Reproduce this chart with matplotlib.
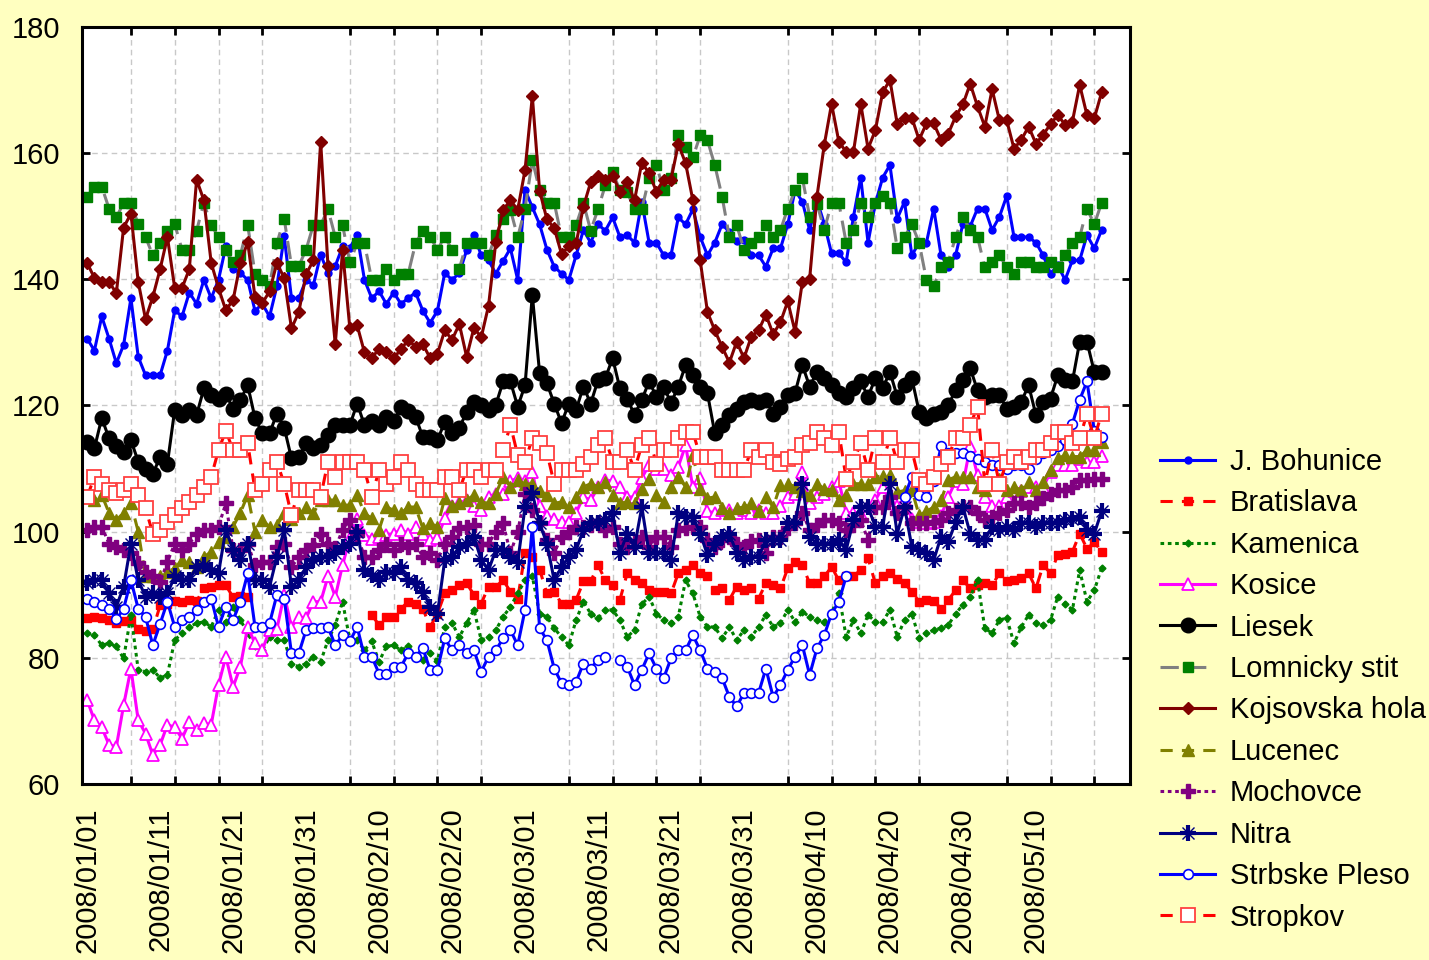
import numpy as np
import pandas as pd
import matplotlib
matplotlib.use('Agg')
import matplotlib.pyplot as plt

nan = np.nan

# daily values, 2008/01/01 .. 2008/05/19
start_date = '2008-01-01'

j_bohunice = [130.6, 128.7, 134.1, 130.6, 126.7, 129.6, 137.0, 127.7, 124.8, 124.8,
              124.8, 128.7, 135.1, 134.1, 137.9, 136.1, 139.9, 137.0, 139.9, 145.2,
              141.7, 141.0, 139.9, 135.0, 136.1, 134.1, 138.9, 146.8, 137.0, 137.0,
              139.9, 139.1, 143.9, 141.0, 142.1, 145.2, 145.0, 147.0, 139.9, 137.0,
              138.1, 136.1, 137.9, 136.1, 137.0, 137.9, 135.0, 133.1, 135.0, 141.0,
              139.9, 141.0, 144.6, 147.0, 143.8, 143.0, 140.9, 142.9, 144.9, 139.9,
              154.2, 151.4, 148.7, 144.7, 142.0, 140.9, 139.9, 143.8, 147.8, 145.8,
              148.7, 147.7, 149.8, 146.7, 147.0, 145.8, 152.3, 145.8, 145.8, 143.8,
              143.8, 149.8, 148.7, 151.1, 146.7, 143.8, 145.8, 148.7, 147.5, 146.0,
              146.2, 143.8, 143.8, 142.0, 144.9, 144.9, 148.7, 154.1, 152.3, 147.8,
              152.5, 148.8, 144.1, 144.1, 142.7, 149.9, 156.1, 145.8, 152.0, 156.1,
              158.1, 149.6, 152.3, 143.8, 145.8, 145.8, 151.2, 143.8, 142.0, 143.8,
              148.8, 148.4, 151.2, 151.2, 147.8, 149.9, 153.2, 146.7, 146.7, 146.7,
              145.8, 143.8, 140.9, 142.2, 139.9, 143.0, 143.0, 147.0, 144.9, 147.8]

bratislava = [86.3, 86.5, 86.3, 86.0, 85.5, 85.8, 86.0, 84.5, 84.2, 84.5,
              88.3, 88.6, 89.0, 88.8, 89.2, 89.0, 91.0, 91.3, 91.5, 91.5,
              89.6, 89.8, 89.6, nan, nan, nan, nan, nan, nan, nan,
              nan, nan, nan, nan, nan, nan, nan, nan, nan, 86.8,
              85.2, 86.5, 86.5, 87.8, 88.9, 88.5, 87.8, 84.9, 87.0, 90.2,
              90.7, 91.5, 91.8, 90.0, 88.6, 91.3, 91.3, 92.3, 90.5, 89.4,
              96.6, 96.0, 94.0, 90.2, 90.5, 88.6, 88.6, 89.2, 92.1, 92.1,
              94.7, 92.3, 91.5, 89.2, 93.4, 92.3, 91.8, 90.7, 90.5, 90.5,
              90.2, 93.4, 93.9, 94.7, 93.4, 92.9, 90.7, 91.0, 89.2, 91.3,
              90.7, 91.0, 89.4, 91.8, 91.5, 91.0, 94.2, 95.2, 94.7, 91.8,
              91.8, 92.9, 94.4, 92.3, 92.9, 93.0, 93.9, 95.8, 91.8, 92.9,
              93.4, 92.5, 91.8, 90.5, 88.9, 89.2, 89.0, 87.8, 89.2, 90.7,
              92.3, 91.0, 91.5, 91.8, 91.5, 93.4, 92.1, 92.3, 92.6, 93.4,
              91.0, 94.7, 93.4, 96.3, 96.5, 96.8, 99.7, 97.3, 98.4, 96.8]

kamenica = [83.9, 83.6, 82.0, 82.3, 81.8, 79.9, 86.8, 78.1, 77.8, 78.1,
            76.8, 77.3, 82.8, 83.9, 84.9, 85.5, 85.7, 84.9, 87.6, 85.7,
            88.1, 86.0, 83.9, 81.8, 81.2, 83.3, 82.8, 82.8, 79.1, 78.6,
            79.1, 80.2, 79.4, 82.8, 85.2, 88.9, 82.8, 82.8, 81.2, 82.6,
            79.4, 81.8, 82.0, 81.2, 81.8, 80.2, 79.7, 80.7, 79.5, 84.9,
            85.5, 83.3, 85.5, 87.6, 82.8, 83.3, 84.4, 86.5, 88.1, 90.2,
            92.3, 92.9, 87.0, 86.5, 84.7, 83.3, 82.0, 86.0, 88.9, 87.0,
            86.3, 87.6, 87.6, 86.0, 83.3, 84.4, 88.5, 89.7, 87.0, 86.0,
            85.5, 86.5, 92.3, 90.2, 86.5, 84.9, 84.9, 83.1, 84.9, 82.8,
            84.4, 83.3, 84.9, 86.8, 84.9, 85.5, 87.6, 85.7, 87.3, 86.5,
            86.0, 85.7, 87.0, 90.2, 83.3, 86.0, 83.9, 86.8, 85.7, 85.7,
            87.6, 83.3, 86.0, 87.0, 83.1, 83.9, 84.4, 84.7, 85.2, 87.0,
            88.4, 89.7, 92.3, 84.7, 83.9, 86.0, 86.3, 82.3, 84.9, 86.8,
            85.5, 85.2, 86.0, 89.7, 88.6, 87.6, 93.9, 88.9, 90.7, 94.2]

kosice = [73.3, 70.1, 69.0, 66.2, 65.9, 72.5, 78.3, 70.1, 68.0, 64.6,
          66.2, 69.4, 69.0, 67.2, 69.8, 68.5, 69.6, 69.4, 75.7, 80.2,
          75.4, 78.6, 84.9, 82.3, 81.2, 84.4, 84.6, 90.0, 84.9, 86.5,
          86.3, 88.9, 88.9, 92.9, 89.7, 94.7, 99.0, 102.0, 99.5, 98.9,
          99.2, 99.5, 99.7, 100.3, 99.7, 100.8, 99.7, 98.7, 99.0, 102.1,
          104.0, 104.5, 105.0, 104.0, 103.5, 105.5, 106.0, 106.0, 108.0, 108.5,
          108.0, 109.5, 104.0, 102.5, 102.0, 101.5, 101.5, 103.0, 105.5, 105.0,
          107.0, 108.2, 108.0, 107.0, 105.5, 105.5, 108.5, 110.6, 110.0, 110.0,
          109.0, 110.3, 113.7, 107.0, 108.5, 103.2, 103.0, 103.5, 103.5, 103.0,
          103.5, 103.0, 103.5, 103.0, 103.0, 104.0, 105.5, 106.0, 109.5, 104.5,
          105.5, 106.0, 107.0, 108.0, 103.0, 103.0, 102.8, 104.0, 105.0, 107.0,
          105.0, 104.0, 105.0, 102.0, 101.5, 101.3, 101.5, 102.5, 105.5, 108.0,
          107.5, 113.5, 109.0, 105.5, 104.0, 104.0, 105.5, 106.5, 106.5, 107.0,
          107.0, 107.0, 109.5, 110.5, 110.5, 110.5, 111.5, 111.0, 111.0, 112.0]

liesek = [114.2, 113.2, 118.0, 114.8, 113.5, 112.7, 114.5, 111.1, 109.9, 109.1,
          111.9, 110.8, 119.3, 118.5, 119.3, 118.5, 122.7, 121.6, 121.1, 121.8,
          119.5, 120.9, 123.2, 118.0, 115.6, 115.6, 118.7, 116.5, 111.6, 111.9,
          114.0, 113.3, 113.7, 115.3, 116.9, 116.9, 116.9, 120.3, 116.9, 117.5,
          116.9, 118.2, 117.5, 119.8, 119.2, 118.2, 115.0, 115.0, 114.5, 117.4,
          115.6, 116.4, 119.0, 120.6, 120.1, 119.3, 120.1, 123.8, 123.8, 119.8,
          123.2, 137.5, 125.1, 123.5, 120.3, 117.2, 120.3, 119.3, 123.0, 120.3,
          124.0, 124.3, 127.5, 122.7, 121.1, 118.5, 120.9, 123.8, 121.4, 123.0,
          120.4, 123.0, 126.4, 124.8, 123.0, 121.9, 115.6, 116.9, 118.5, 119.5,
          120.6, 120.9, 120.6, 120.9, 118.7, 119.8, 121.6, 122.0, 126.4, 123.0,
          125.3, 124.3, 123.2, 121.9, 121.4, 122.7, 123.8, 121.4, 124.3, 122.7,
          125.3, 121.4, 123.2, 124.3, 119.0, 118.0, 118.7, 119.0, 120.1, 122.4,
          124.0, 125.9, 122.4, 121.4, 121.6, 121.6, 119.5, 119.8, 120.6, 123.2,
          118.5, 120.6, 121.1, 124.8, 124.0, 123.8, 130.1, 130.1, 125.3, 125.3]

lomnicky_stit = [153.1, 154.7, 154.7, 151.2, 149.8, 152.1, 152.1, 148.7, 146.7, 143.8,
                 145.7, 147.7, 148.7, 144.7, 144.7, 147.7, 152.1, 148.6, 146.7, 144.7,
                 142.7, 143.8, 148.6, 140.9, 139.9, 139.0, 145.7, 149.6, 142.1, 142.1,
                 144.7, 148.6, 148.6, 151.1, 146.7, 148.6, 142.7, 145.7, 145.7, 139.9,
                 139.9, 141.7, 139.9, 140.9, 140.9, 145.7, 147.7, 146.7, 144.7, 146.7,
                 144.7, 141.7, 145.7, 145.7, 145.7, 143.8, 147.0, 149.6, 151.0, 146.7,
                 151.2, 158.9, 154.1, 152.1, 152.1, 146.7, 146.7, 148.6, 152.1, 147.7,
                 151.1, 154.9, 157.0, 154.1, 153.8, 151.1, 151.1, 156.0, 158.1, 154.1,
                 156.0, 162.8, 160.9, 159.3, 162.8, 162.0, 158.1, 153.1, 146.7, 148.6,
                 144.7, 145.7, 146.7, 148.6, 146.7, 147.8, 151.2, 154.1, 156.1, 149.9,
                 152.0, 147.8, 152.1, 152.1, 145.8, 147.8, 152.1, 149.9, 152.1, 153.2,
                 152.1, 144.9, 146.7, 148.7, 145.8, 139.9, 138.9, 141.9, 142.8, 146.7,
                 149.9, 147.8, 146.7, 141.9, 142.8, 143.8, 141.9, 140.9, 142.8, 142.8,
                 141.9, 141.9, 142.8, 141.9, 143.8, 145.8, 146.7, 151.2, 148.7, 152.1]

kojsovska_hola = [142.6, 140.2, 139.6, 139.6, 137.8, 148.2, 150.4, 139.6, 133.7, 137.2,
                  141.6, 146.7, 138.6, 138.6, 141.6, 155.8, 152.5, 142.6, 138.6, 135.1,
                  136.7, 142.6, 145.9, 137.2, 136.2, 138.1, 142.6, 140.2, 132.2, 134.8,
                  140.8, 143.0, 161.8, 142.1, 129.7, 144.6, 132.2, 132.7, 128.4, 127.5,
                  129.0, 128.4, 127.5, 128.9, 130.4, 129.3, 129.7, 127.5, 128.2, 131.9,
                  130.4, 132.9, 127.7, 132.3, 130.8, 135.8, 145.9, 151.0, 152.5, 151.0,
                  157.3, 169.0, 154.0, 149.5, 148.1, 144.0, 145.2, 145.7, 151.5, 155.4,
                  156.4, 155.8, 156.4, 153.9, 155.4, 152.5, 158.5, 156.8, 153.9, 155.8,
                  155.8, 161.4, 158.4, 152.5, 143.0, 134.8, 131.9, 129.3, 126.8, 130.1,
                  127.5, 130.9, 131.9, 134.4, 131.3, 133.2, 136.5, 131.7, 139.6, 140.1,
                  153.1, 161.3, 167.8, 161.8, 160.2, 160.2, 167.8, 160.7, 163.6, 169.6,
                  171.6, 164.6, 165.6, 165.6, 162.1, 164.7, 164.7, 162.1, 163.1, 165.8,
                  167.7, 171.0, 167.4, 164.2, 170.1, 165.2, 165.2, 160.7, 162.1, 164.2,
                  161.5, 162.9, 164.6, 166.0, 164.5, 165.0, 170.8, 166.0, 165.5, 169.6]

lucenec = [105.8, 105.0, 105.8, 103.0, 101.8, 103.0, 104.5, 100.0, 92.9, 92.9,
           93.0, 93.6, 94.2, 95.5, 95.2, 94.4, 96.0, 96.8, 98.4, 99.2,
           100.8, 103.0, 105.8, 100.0, 101.8, 100.8, 101.0, 102.9, 102.0, 103.0,
           103.9, 102.9, 105.0, 105.0, 105.0, 104.2, 104.2, 105.8, 102.9, 102.1,
           100.3, 103.9, 103.4, 102.9, 103.9, 103.9, 100.5, 101.3, 100.8, 105.3,
           104.0, 104.5, 105.0, 105.8, 104.7, 104.5, 106.0, 108.7, 107.1, 108.2,
           107.5, 107.6, 106.5, 105.8, 104.5, 104.7, 103.9, 105.5, 107.1, 107.6,
           107.1, 107.9, 105.8, 104.5, 104.7, 104.5, 106.8, 108.4, 105.8, 104.7,
           107.1, 108.7, 107.1, 112.1, 106.8, 105.3, 105.5, 103.7, 102.9, 103.7,
           103.9, 104.5, 103.2, 105.5, 103.9, 107.4, 107.6, 107.1, 106.5, 105.8,
           107.6, 106.8, 106.6, 105.0, 105.8, 107.6, 107.6, 107.6, 108.7, 108.8,
           109.0, 106.3, 106.5, 106.6, 102.6, 103.2, 103.9, 105.0, 108.2, 108.7,
           108.7, 108.7, 107.1, 106.6, 107.5, 108.4, 106.6, 107.1, 106.6, 107.9,
           106.6, 107.9, 109.8, 111.6, 112.1, 111.9, 111.9, 112.9, 112.9, 114.2]

mochovce = [100.3, 100.8, 100.8, 98.1, 97.6, 97.1, 96.6, 95.0, 93.6, 92.9,
            92.0, 95.2, 98.1, 97.1, 98.1, 99.7, 100.3, 100.3, 100.8, 104.5,
            97.1, 97.1, 98.1, 94.7, 95.2, 95.2, 97.6, 98.1, 94.4, 96.0,
            97.1, 97.9, 99.7, 98.1, 97.4, 100.3, 101.8, 99.5, 96.0, 96.0,
            97.1, 98.1, 97.1, 98.1, 97.6, 98.1, 96.0, 96.6, 95.5, 98.0,
            99.2, 100.5, 100.8, 101.0, 98.1, 98.1, 100.0, 101.3, 96.6, 100.0,
            106.0, 103.4, 101.3, 98.7, 96.6, 99.2, 100.0, 100.8, 100.8, 101.0,
            101.3, 100.3, 100.8, 98.1, 97.6, 98.5, 99.2, 97.6, 99.2, 99.2,
            97.6, 100.3, 100.5, 100.8, 100.8, 98.7, 97.6, 98.7, 99.2, 98.1,
            97.6, 98.5, 98.7, 96.6, 99.2, 99.2, 100.5, 101.3, 102.9, 100.3,
            101.0, 101.8, 101.8, 101.3, 100.3, 101.0, 101.8, 98.7, 103.9, 103.9,
            105.5, 102.9, 103.9, 101.3, 101.3, 101.3, 101.5, 101.8, 102.9, 103.4,
            103.9, 103.9, 102.9, 101.8, 102.3, 102.9, 103.5, 104.5, 104.5, 103.9,
            104.5, 105.3, 106.0, 106.6, 106.6, 107.1, 108.2, 108.2, 108.4, 108.4]

nitra = [91.8, 92.3, 92.3, 90.2, 88.1, 91.3, 98.1, 92.3, 89.7, 90.2,
         89.7, 90.2, 92.9, 92.3, 92.3, 94.4, 94.7, 93.9, 93.4, 100.3,
         97.1, 95.5, 98.1, 92.3, 92.3, 91.3, 96.0, 100.3, 91.3, 92.3,
         94.4, 95.5, 96.0, 96.0, 96.6, 97.6, 98.1, 100.0, 93.9, 93.1,
         92.3, 93.6, 93.4, 94.4, 92.3, 91.8, 90.5, 88.1, 87.0, 95.5,
         96.0, 97.6, 98.0, 99.2, 95.5, 93.9, 97.1, 97.1, 96.0, 95.2,
         103.9, 106.1, 101.3, 98.1, 92.3, 94.4, 96.0, 97.1, 100.3, 101.3,
         101.3, 101.8, 102.9, 96.6, 99.7, 97.6, 103.9, 96.6, 96.6, 96.6,
         95.5, 102.9, 102.4, 102.4, 99.7, 96.3, 98.1, 99.2, 99.7, 96.6,
         95.5, 96.0, 96.0, 98.7, 98.7, 98.7, 101.3, 101.3, 107.6, 99.2,
         98.1, 98.1, 98.1, 98.7, 97.1, 101.8, 103.9, 103.9, 100.8, 100.8,
         107.6, 99.7, 103.9, 97.6, 97.1, 96.6, 95.5, 99.2, 98.4, 101.5,
         103.9, 99.7, 98.7, 98.7, 100.8, 100.3, 100.8, 100.3, 101.3, 101.3,
         100.8, 101.3, 101.3, 101.3, 101.8, 102.0, 102.4, 100.3, 99.7, 103.2]

strbske_pleso = [89.4, 88.9, 88.4, 87.8, 86.1, 87.8, 92.3, 87.8, 86.5, 82.0,
                 85.4, 88.9, 84.9, 86.0, 86.5, 87.6, 88.9, 89.4, 84.9, 88.1,
                 86.0, 88.9, 93.4, 84.9, 84.9, 85.5, 90.0, 89.4, 80.7, 80.7,
                 84.4, 84.7, 84.7, 84.9, 82.0, 83.6, 82.6, 84.9, 80.2, 80.2,
                 77.5, 77.5, 78.6, 78.6, 80.7, 80.2, 81.5, 78.1, 78.1, 83.1,
                 81.2, 82.0, 80.7, 81.2, 77.8, 80.2, 81.2, 83.1, 84.4, 82.0,
                 87.6, 100.8, 84.7, 82.8, 78.3, 76.0, 75.7, 76.2, 79.1, 78.3,
                 79.7, 80.2, nan, 79.7, 78.6, 75.7, 78.1, 80.7, 78.3, 76.8,
                 79.9, 81.2, 81.2, 83.6, 81.2, 78.3, 77.8, 76.8, 73.8, 72.3,
                 74.4, 74.4, 74.4, 78.3, 73.8, 75.7, 78.1, 80.2, 82.0, 77.3,
                 81.5, 83.6, 87.0, 88.9, 92.9, nan, nan, nan, nan, nan,
                 nan, nan, 105.5, 108.7, 105.8, 105.5, 108.0, 113.5, 112.5, 112.5,
                 112.5, 112.0, 111.5, 111.0, 110.5, 110.5, 110.0, 110.5, 110.5, 110.0,
                 111.5, 112.5, 113.0, 113.5, 114.5, 117.1, 120.9, 123.8, 116.0, 115.0]

stropkov = [105.5, 108.7, 107.6, 106.6, 106.1, 106.6, 107.6, 105.8, 103.7, 99.7,
            100.3, 101.6, 102.6, 103.7, 104.7, 105.8, 107.1, 108.7, 112.9, 116.0,
            112.9, 112.9, 114.0, 106.6, 107.6, 109.8, 111.1, 107.6, 102.6, 106.6,
            106.6, 106.6, 105.5, 111.1, 108.7, 111.1, 111.1, 111.1, 109.8, 105.5,
            109.8, 107.6, 108.7, 111.1, 109.8, 107.6, 106.6, 106.6, 106.6, 108.7,
            108.7, 106.6, 109.8, 109.8, 108.7, 109.8, 109.8, 112.9, 116.9, 112.1,
            111.1, 114.8, 114.0, 112.5, 107.6, 109.8, 109.8, 109.8, 110.8, 111.9,
            113.7, 114.8, 111.1, 111.1, 112.9, 109.8, 113.7, 114.8, 110.8, 112.9,
            112.9, 114.8, 115.8, 115.8, 111.9, 111.9, 111.9, 109.8, 109.8, 109.8,
            109.8, 112.9, 111.9, 112.9, 111.1, 110.8, 111.5, 111.9, 113.7, 114.0,
            115.8, 114.8, 113.7, 115.8, 108.4, 111.1, 114.0, 109.8, 114.8, 111.1,
            114.8, 111.1, 112.9, 112.9, 108.2, 107.6, 108.7, 110.8, 111.9, 114.8,
            114.8, 116.9, 119.8, 107.6, 112.9, 107.6, 111.1, 111.9, 111.1, 111.9,
            112.9, 112.9, 114.0, 115.8, 115.8, 114.0, 114.8, 118.7, 114.8, 118.7]

days = np.arange(len(j_bohunice))
label_days = np.arange(0, 140, 10)
label_text = pd.date_range(start_date, periods=len(label_days), freq='10D').strftime('%Y/%m/%d')

plt.rcParams['font.family'] = ['Liberation Sans', 'DejaVu Sans']

fig = plt.figure(figsize=(14.29, 9.6), dpi=100, facecolor='#FFFFC0')
ax = fig.add_axes([0.0574, 0.1833, 0.7334, 0.7887])
ax.set_facecolor('white')

lw = 2.2
handles = []
h, = ax.plot(days, j_bohunice, color='#0000FF', lw=lw, marker='o', ms=5, label='J. Bohunice')
handles.append(h)
h, = ax.plot(days, bratislava, color='#FF0000', lw=lw, ls=(0, (4, 3)), marker='s', ms=6, label='Bratislava')
handles.append(h)
h, = ax.plot(days, kamenica, color='#008000', lw=lw, ls=(0, (1.2, 1.2)), marker='D', ms=3.5, label='Kamenica')
handles.append(h)
h, = ax.plot(days, kosice, color='#FF00FF', lw=lw, marker='^', ms=9, mfc='white', mew=1.3, label='Kosice')
handles.append(h)
h, = ax.plot(days, liesek, color='black', lw=lw, marker='o', ms=10.5, label='Liesek')
handles.append(h)
h, = ax.plot(days, lomnicky_stit, color='#808080', lw=lw, ls=(0, (6, 3)), marker='s', ms=6.5,
             mfc='#008000', mec='#008000', label='Lomnicky stit')
handles.append(h)
h, = ax.plot(days, kojsovska_hola, color='#800000', lw=lw, marker='D', ms=6.5, label='Kojsovska hola')
handles.append(h)
h, = ax.plot(days, lucenec, color='#808000', lw=lw, ls=(0, (4, 3)), marker='^', ms=9, label='Lucenec')
handles.append(h)
h, = ax.plot(days, mochovce, color='#800080', lw=lw, ls=(0, (1.2, 1.2)), marker='P', ms=10, label='Mochovce')
handles.append(h)
h, = ax.plot(days, nitra, color='#000080', lw=lw, marker='+', ms=11, mew=3, label='Nitra')
hx, = ax.plot(days, nitra, ls='none', color='#000080', marker='x', ms=8, mew=1)
handles.append((h, hx))
h, = ax.plot(days, strbske_pleso, color='#0000FF', lw=lw, marker='o', ms=7, mfc='white', mew=1.2,
             label='Strbske Pleso')
handles.append(h)
h, = ax.plot(days, stropkov, color='#FF0000', lw=lw, ls=(0, (4, 3)), marker='s', ms=10.5, mfc='white',
             mec='#FF4040', mew=1.3, label='Stropkov')
handles.append(h)

ax.set_xlim(-0.7, 142.9)
ax.set_ylim(60, 180)
ax.set_yticks(np.arange(60, 181, 20))
ax.set_xticks(label_days)
ax.set_xticklabels(label_text, rotation=90, fontsize=21)
ax.set_xticks(np.arange(0, 143, 6), minor=True)
ax.tick_params(axis='x', which='major', length=0, pad=17)
ax.tick_params(axis='x', which='minor', length=6, width=2, direction='in', top=True, bottom=True)
ax.tick_params(axis='y', which='major', length=6, width=2, direction='in', left=True, right=True,
               labelsize=21, pad=16)
ax.grid(which='minor', axis='x', color='#C8C8C8', ls=(0, (4, 3)), lw=1)
ax.grid(which='major', axis='y', color='#C8C8C8', ls=(0, (4, 3)), lw=1)
ax.grid(which='major', axis='x', visible=False)
for sp in ax.spines.values():
    sp.set_linewidth(2.2)

labels = ['J. Bohunice', 'Bratislava', 'Kamenica', 'Kosice', 'Liesek', 'Lomnicky stit',
          'Kojsovska hola', 'Lucenec', 'Mochovce', 'Nitra', 'Strbske Pleso', 'Stropkov']
fig.legend(handles, labels, loc='upper left', bbox_to_anchor=(1160 / 1429, 1 - 448 / 960),
           frameon=False, fontsize=21, handlelength=1.9, handletextpad=0.5, labelspacing=0.46,
           borderaxespad=0, borderpad=0)

fig.savefig('out.png', dpi=100, facecolor=fig.get_facecolor())
